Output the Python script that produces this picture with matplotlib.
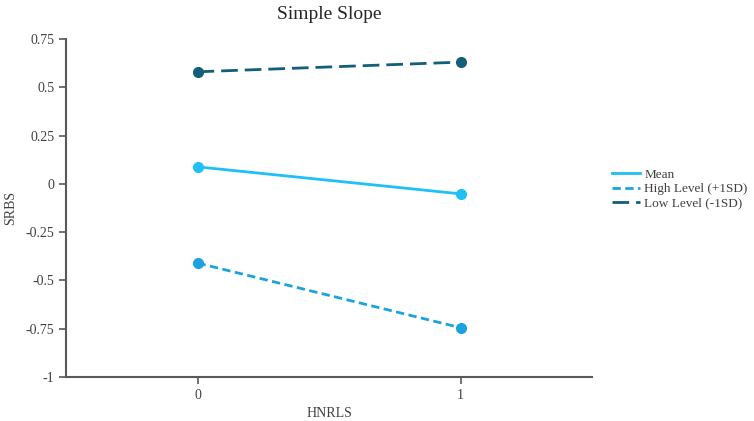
import matplotlib.pyplot as plt

plt.rcParams['font.family'] = ['Liberation Serif', 'DejaVu Serif']

x_vals = [0, 1]
mean_vals = [0.088, -0.052]
high_vals = [-0.41, -0.745]
low_vals = [0.58, 0.63]

fig = plt.figure(figsize=(7.54, 4.21), dpi=100)
ax = fig.add_axes([0.0875, 0.1045, 0.698, 0.803])

ax.plot(x_vals, mean_vals, color='#1ec0f5', lw=2, marker='o', ms=7, label='Mean')
ax.plot(x_vals, high_vals, color='#1aa3e0', lw=2, ls=(0, (3, 1.6)), marker='o', ms=7,
        label='High Level (+1SD)')
ax.plot(x_vals, low_vals, color='#135e7a', lw=2, ls=(0, (6, 2.5)), marker='o', ms=7,
        label='Low Level (-1SD)')

ax.set_xlim(-0.5, 1.5)
ax.set_ylim(-1, 0.75)
ax.set_xticks([0, 1])
ax.set_xticklabels(['0', '1'])
ax.set_yticks([-1, -0.75, -0.5, -0.25, 0, 0.25, 0.5, 0.75])
ax.set_yticklabels(['-1', '-0.75', '-0.5', '-0.25', '0', '0.25', '0.5', '0.75'])

for s in ['top', 'right']:
    ax.spines[s].set_visible(False)
for s in ['left', 'bottom']:
    ax.spines[s].set_color('#595959')
    ax.spines[s].set_linewidth(1.5)
ax.tick_params(colors='#595959', labelcolor='#404040', labelsize=10, length=5, width=1.2)

ax.set_title('Simple Slope', fontsize=14, color='#262626', pad=14)
ax.set_xlabel('HNRLS', fontsize=10, color='#404040', labelpad=4)
ax.set_ylabel('SRBS', fontsize=10, color='#404040', labelpad=6)

leg = ax.legend(handles=[l for l in ax.get_lines()], loc='center left',
                bbox_to_anchor=(1.02, 0.556), frameon=False, fontsize=9.5,
                handlelength=2.1, handletextpad=0.35, labelspacing=0.15,
                borderpad=0.2, labelcolor='#404040')
for h in leg.legend_handles:
    h.set_marker('')

fig.savefig('out.png', dpi=100)
